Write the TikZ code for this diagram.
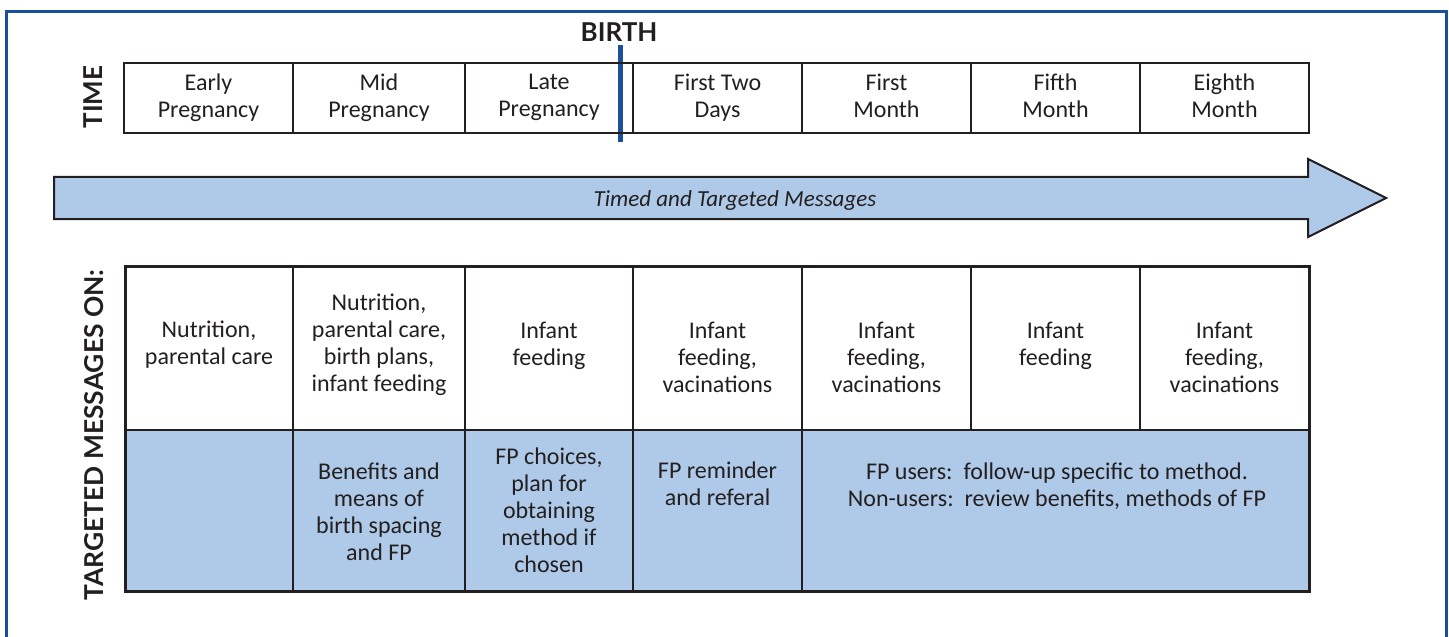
\documentclass[tikz,border=0pt]{standalone}
\usepackage{fontspec}
\setmainfont{Carlito}
\newfontfamily\labfont{Lato}
\definecolor{frameblue}{HTML}{1B4F9C}
\definecolor{fillblue}{HTML}{AFCAE8}
\definecolor{ink}{HTML}{231F20}
\tikzset{
  cell/.style={draw=ink, line width=2bp, anchor=north west, inner sep=0pt, outer sep=0pt},
  timecell/.style={cell, minimum height=70bp},
  msgcell/.style={cell, minimum height=164bp},
  fpcell/.style={cell, minimum height=161bp, fill=fillblue},
  txt/.style={text=ink, align=center, inner sep=0pt, yshift=-3bp, font=\fontsize{24bp}{27bp}\selectfont,
    execute at begin node=\strut, execute at end node=\strut},
  lab/.style={text=ink, inner sep=0pt, font=\labfont\bfseries\fontsize{26bp}{28bp}\selectfont},
}
\begin{document}
\begin{tikzpicture}[x=1bp,y=-1bp]
\useasboundingbox (0,0) rectangle (1449,637);
% frame
\draw[frameblue, line width=3bp] (6,700) -- (6,12) -- (1446,12) -- (1446,700);

% time row
\node[timecell, minimum width=169bp] (t1) at (124,63) {};
\node[timecell, minimum width=172bp] (t2) at (293,63) {};
\node[timecell, minimum width=168bp] (t3) at (465,63) {};
\node[timecell, minimum width=169bp] (t4) at (633,63) {};
\node[timecell, minimum width=169bp] (t5) at (802,63) {};
\node[timecell, minimum width=169bp] (t6) at (971,63) {};
\node[timecell, minimum width=169bp] (t7) at (1140,63) {};
\node[txt] (tt1) at (208.5,96.5) {Early\\Pregnancy};
\node[txt] (tt2) at (379,96.5) {Mid\\Pregnancy};
\node[txt] (tt3) at (549,96.5) {Late\\Pregnancy};
\node[txt] (tt4) at (717.5,96.5) {First Two\\Days};
\node[txt] (tt5) at (886.5,96.5) {First\\Month};
\node[txt] (tt6) at (1055.5,96.5) {Fifth\\Month};
\node[txt] (tt7) at (1224.5,96.5) {Eighth\\Month};

% birth marker
\coordinate (b1) at (620.5,45);
\coordinate (b2) at (620.5,142);
\draw[frameblue, line width=5bp] (b1) -- (b2);
\node[lab] (birth) at (619,32) {BIRTH};
\node[lab, rotate=90] (time) at (93,97) {TIME};

% arrow
\draw[ink, line width=2bp, fill=fillblue, line join=miter]
  (54,177) -- (1308,177) -- (1308,159) -- (1386,198) -- (1308,237) -- (1308,219) -- (54,219) -- cycle;
\node[txt, font=\itshape\fontsize{23bp}{27bp}\selectfont, execute at begin node={}, execute at end node={}] (arrowtxt) at (735,198) {Timed and Targeted Messages};

% messages table
\node[msgcell, minimum width=168bp] (m1) at (125,266) {};
\node[msgcell, minimum width=172bp] (m2) at (293,266) {};
\node[msgcell, minimum width=168bp] (m3) at (465,266) {};
\node[msgcell, minimum width=169bp] (m4) at (633,266) {};
\node[msgcell, minimum width=169bp] (m5) at (802,266) {};
\node[msgcell, minimum width=169bp] (m6) at (971,266) {};
\node[msgcell, minimum width=169bp] (m7) at (1140,266) {};
\node[fpcell, minimum width=168bp] (f1) at (125,430) {};
\node[fpcell, minimum width=172bp] (f2) at (293,430) {};
\node[fpcell, minimum width=168bp] (f3) at (465,430) {};
\node[fpcell, minimum width=169bp] (f4) at (633,430) {};
\node[fpcell, minimum width=507bp] (f5) at (802,430) {};
\draw[ink, line width=3bp] (m1.north west) rectangle (f5.south east);
\draw[ink, line width=2.5bp] (t1.north west) rectangle (t7.south east);

\node[txt] (mt1) at (209,343.5) {Nutrition,\\parental care};
\node[txt] (mt2) at (379,344) {Nutrition,\\parental care,\\birth plans,\\infant feeding};
\node[txt] (mt3) at (549,344.5) {Infant\\feeding};
\node[txt] (mt4) at (717.5,358) {Infant\\feeding,\\vacinations};
\node[txt] (mt5) at (886.5,358) {Infant\\feeding,\\vacinations};
\node[txt] (mt6) at (1055.5,344.5) {Infant\\feeding};
\node[txt] (mt7) at (1224.5,358) {Infant\\feeding,\\vacinations};

\node[txt] (ft2) at (379,512.5) {Benefits and\\means of\\birth spacing\\and FP};
\node[txt] (ft3) at (549,511) {FP choices,\\plan for\\obtaining\\method if\\chosen};
\node[txt] (ft4) at (717.5,485) {FP reminder\\and referal};
\node[txt] (ft5) at (1057,485.5) {FP users:\ \ follow-up specific to method.\\Non-users:\ \ review benefits, methods of FP};

\node[lab, rotate=90] (targ) at (94,435) {\scalebox{1.015}[1]{TARGETED MESSAGES ON:}};
\end{tikzpicture}
\end{document}
